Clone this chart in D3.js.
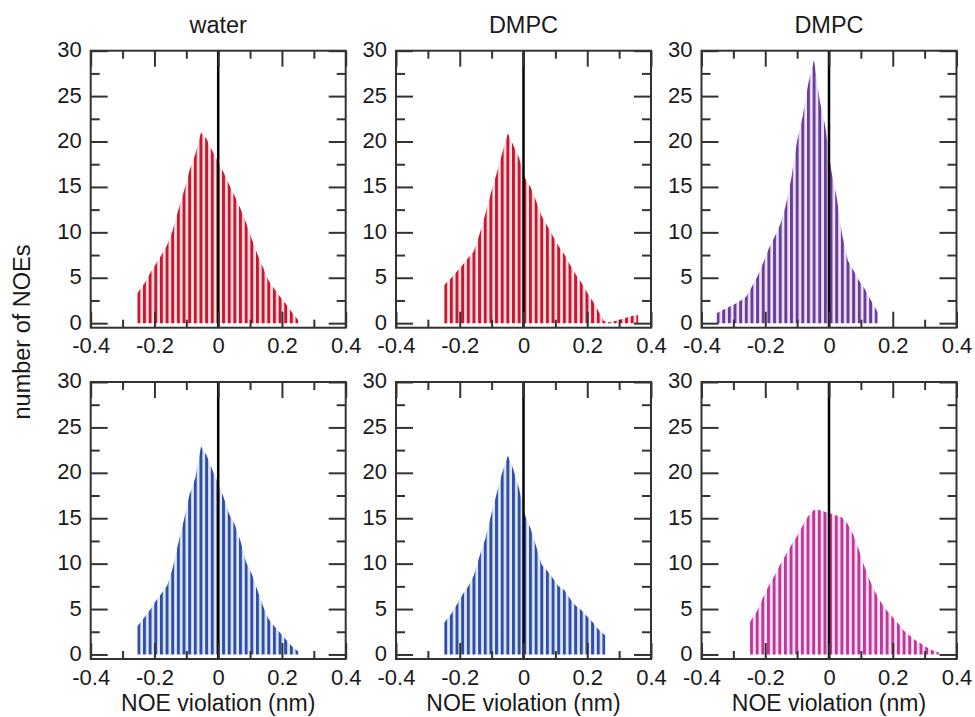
<!DOCTYPE html>
<html>
<head>
<meta charset="utf-8">
<script src="https://cdn.jsdelivr.net/npm/d3@7"></script>
<style>
  body { margin: 0; background: #fff; }
  text { font-family: "Liberation Sans", Arial, sans-serif; fill: #1a1a1a; }
</style>
</head>
<body>
<div id="chart"></div>
<script>
// column titles, ticks
const titles = ["water", "DMPC", "DMPC"];
const xTicks = [-0.4, -0.2, 0, 0.2, 0.4];
const xMinor = [-0.3, -0.1, 0.1, 0.3];
const yTicks = [0, 5, 10, 15, 20, 25, 30];
const yMinor = [2.5, 7.5, 12.5, 17.5, 22.5, 27.5];

// NOE violation (nm) where each histogram stripe sits
const violationA = [-0.249, -0.231, -0.214, -0.196, -0.178, -0.160, -0.143, -0.125, -0.107, -0.090,
  -0.072, -0.054, -0.037, -0.019, -0.001, 0.017, 0.034, 0.052, 0.070, 0.087, 0.105, 0.123, 0.141,
  0.158, 0.176, 0.194, 0.211, 0.229, 0.247];
const violationB = [-0.244, -0.226, -0.209, -0.191, -0.173, -0.156, -0.138, -0.120, -0.102, -0.085,
  -0.067, -0.049, -0.032, -0.014, 0.004, 0.022, 0.039, 0.057, 0.075, 0.092, 0.110, 0.128, 0.145,
  0.163, 0.181, 0.199, 0.216, 0.234, 0.252, 0.269, 0.287, 0.305, 0.322, 0.340, 0.355];
const violationC = [-0.348, -0.330, -0.313, -0.295, -0.277, -0.260, -0.242, -0.224, -0.206, -0.189,
  -0.171, -0.153, -0.136, -0.118, -0.100, -0.083, -0.065, -0.047, -0.029, -0.012, 0.006, 0.024,
  0.041, 0.059, 0.077, 0.094, 0.112, 0.130, 0.148];
const violationD = [-0.243, -0.225, -0.208, -0.190, -0.172, -0.155, -0.137, -0.119, -0.101, -0.084,
  -0.066, -0.048, -0.031, -0.013, 0.005, 0.023, 0.040, 0.058, 0.076, 0.093, 0.111, 0.129, 0.146,
  0.164, 0.182, 0.200, 0.217, 0.235, 0.253, 0.270, 0.288, 0.306, 0.323, 0.341];

// number of NOEs
const countsWaterTop = [3.3, 4.4, 5.5, 6.5, 7.5, 8.6, 10.2, 12.5, 14.6, 16.8, 18.6, 21.0, 20.3, 19.0,
  17.8, 16.6, 15.3, 14.0, 12.6, 11.1, 9.3, 7.6, 6.1, 4.7, 3.8, 2.9, 2.2, 1.3, 0.3];
const countsDmpcTop = [4.2, 5.0, 5.7, 6.4, 7.2, 7.9, 9.8, 12.0, 14.4, 16.4, 18.7, 20.9, 19.6, 18.2,
  16.0, 15.0, 13.5, 11.8, 10.7, 9.6, 8.5, 7.6, 6.5, 5.4, 4.5, 3.4, 2.5, 1.4, 0.25, 0.1, 0.25, 0.4,
  0.6, 0.8, 0.9];
const countsDmpc2Top = [1.1, 1.5, 1.8, 2.1, 2.5, 2.9, 4.0, 5.2, 6.7, 8.2, 9.5, 10.9, 12.9, 16.0, 20.1,
  22.7, 26.4, 29.0, 24.5, 21.7, 17.0, 13.9, 9.8, 6.9, 5.8, 4.7, 3.8, 2.6, 1.2];
const countsWaterBottom = [3.1, 4.1, 4.9, 5.9, 6.7, 7.6, 9.5, 12.3, 14.9, 17.6, 19.4, 22.9, 22.0, 20.4,
  18.9, 17.3, 15.5, 14.3, 12.5, 10.2, 8.9, 7.1, 5.3, 3.9, 3.1, 2.4, 1.7, 1.0, 0.3];
const countsDmpcBottom = [3.5, 4.5, 5.5, 6.6, 7.5, 8.7, 10.8, 12.7, 15.3, 17.6, 20.0, 21.9, 20.4, 18.3,
  15.4, 13.9, 12.0, 9.9, 9.2, 8.4, 7.5, 7.1, 6.2, 5.4, 4.9, 4.2, 3.6, 2.8, 2.1];
const countsDmpc2Bottom = [3.6, 4.8, 6.2, 7.5, 8.6, 9.8, 10.9, 12.0, 13.0, 14.1, 15.2, 15.9, 15.9,
  15.7, 15.5, 15.3, 15.1, 14.4, 13.2, 11.6, 9.7, 8.1, 6.8, 5.7, 4.8, 4.1, 3.4, 2.6, 2.1, 1.6, 1.2,
  0.8, 0.5, 0.2];

const colors = ["#c8172f", "#c8172f", "#6b3c9b", "#2d4fa6", "#2d4fa6", "#c0369b"];

const panels = [
  { row: 0, col: 0, xs: violationA, ys: countsWaterTop, color: colors[0] },
  { row: 0, col: 1, xs: violationB, ys: countsDmpcTop, color: colors[1] },
  { row: 0, col: 2, xs: violationC, ys: countsDmpc2Top, color: colors[2] },
  { row: 1, col: 0, xs: violationA, ys: countsWaterBottom, color: colors[3] },
  { row: 1, col: 1, xs: violationB, ys: countsDmpcBottom, color: colors[4] },
  { row: 1, col: 2, xs: violationD, ys: countsDmpc2Bottom, color: colors[5] },
];

const width = 975;
const height = 717;
const pw = 255;
const ph = 277;
const colX = [90.7, 396, 701.5];
const rowY = [50.7, 382];
const stripe = 5.65; // stripe period (px)
const axisColor = "#333";

const svg = d3
  .select("#chart")
  .append("svg")
  .attr("width", width)
  .attr("height", height)
  .attr("viewBox", [0, 0, width, height]);

const defs = svg.append("defs");

const x = d3.scaleLinear().domain([-0.4, 0.4]).range([0, pw]);
const y = d3.scaleLinear().domain([-0.5, 30]).range([ph, 0]);

panels.forEach((p, i) => {
  const g = svg
    .append("g")
    .attr("transform", `translate(${colX[p.col]},${rowY[p.row]})`);

  const data = p.ys.map((c, k) => ({ v: p.xs[k], c }));

  // vertical hatch pattern, lined up on the first stripe
  const pat = defs
    .append("pattern")
    .attr("id", "hatch" + i)
    .attr("patternUnits", "userSpaceOnUse")
    .attr("x", x(data[0].v) - 1.5)
    .attr("y", 0)
    .attr("width", stripe)
    .attr("height", 20);
  pat.append("rect").attr("width", stripe).attr("height", 20)
    .attr("fill", p.color).attr("fill-opacity", 0.12);
  pat.append("rect").attr("width", 3).attr("height", 20).attr("fill", p.color);

  const area = d3
    .area()
    .x((d, k) => x(d.v) + (k === 0 ? -1.5 : k === data.length - 1 ? 1.5 : 0))
    .y0(y(0))
    .y1((d) => y(d.c));

  g.append("path").attr("d", area(data)).attr("fill", `url(#hatch${i})`);

  // zero line
  g.append("line")
    .attr("x1", x(0)).attr("x2", x(0))
    .attr("y1", 0).attr("y2", ph)
    .attr("stroke", "#000").attr("stroke-width", 2.5);

  // ticks all pointing inward
  const fmt = (d) => String(d);
  const style = (sel) => {
    sel.select(".domain").remove();
    sel.selectAll(".tick line").attr("stroke", axisColor).attr("stroke-width", 2);
    sel.selectAll("text").attr("font-size", 22).attr("fill", "#1a1a1a")
      .attr("font-family", '"Liberation Sans", Arial, sans-serif');
  };

  g.append("g").attr("transform", `translate(0,${ph})`)
    .call(d3.axisBottom(x).tickValues(xTicks).tickSize(-16).tickPadding(10).tickFormat(fmt))
    .call(style);
  g.append("g").attr("transform", `translate(0,${ph})`)
    .call(d3.axisBottom(x).tickValues(xMinor).tickSize(-8).tickFormat(""))
    .call(style);
  g.append("g")
    .call(d3.axisTop(x).tickValues(xTicks).tickSize(-16).tickFormat(""))
    .call(style);
  g.append("g")
    .call(d3.axisTop(x).tickValues(xMinor).tickSize(-8).tickFormat(""))
    .call(style);
  g.append("g")
    .call(d3.axisLeft(y).tickValues(yTicks).tickSize(-17).tickPadding(9).tickFormat(fmt))
    .call(style)
    .call((s) => s.selectAll("text").attr("dy", "0.27em"));
  g.append("g")
    .call(d3.axisLeft(y).tickValues(yMinor).tickSize(-9).tickFormat(""))
    .call(style);
  g.append("g").attr("transform", `translate(${pw},0)`)
    .call(d3.axisRight(y).tickValues(yTicks).tickSize(-17).tickFormat(""))
    .call(style);
  g.append("g").attr("transform", `translate(${pw},0)`)
    .call(d3.axisRight(y).tickValues(yMinor).tickSize(-9).tickFormat(""))
    .call(style);

  // frame
  g.append("rect")
    .attr("width", pw).attr("height", ph)
    .attr("fill", "none").attr("stroke", axisColor).attr("stroke-width", 2);

  if (p.row === 0) {
    g.append("text")
      .attr("x", pw / 2).attr("y", -18)
      .attr("text-anchor", "middle").attr("font-size", 23.5)
      .text(titles[p.col]);
  }
  if (p.row === 1) {
    g.append("text")
      .attr("x", pw / 2).attr("y", ph + 52)
      .attr("text-anchor", "middle").attr("font-size", 23)
      .text("NOE violation (nm)");
  }
});

svg.append("text")
  .attr("transform", "translate(30,332) rotate(-90)")
  .attr("text-anchor", "middle").attr("font-size", 23.5)
  .text("number of NOEs");
</script>
</body>
</html>
